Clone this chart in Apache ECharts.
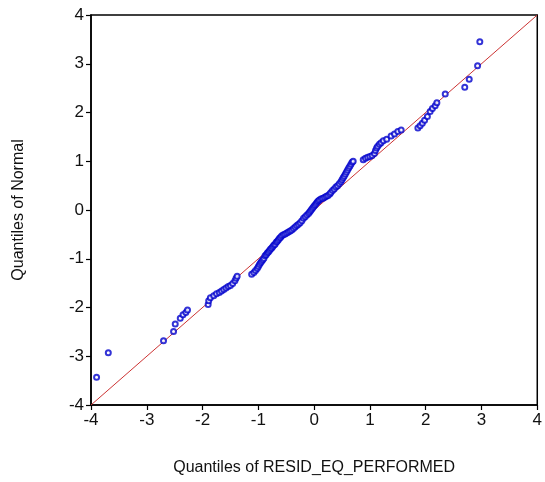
<!DOCTYPE html>
<html>
<head>
<meta charset="utf-8">
<script src="https://cdn.jsdelivr.net/npm/echarts@6/dist/echarts.min.js"></script>
<style>
  html, body { margin: 0; padding: 0; background: #fff; }
  #qq_chart { width: 545px; height: 482px; }
</style>
</head>
<body>
<div id="qq_chart"></div>
<script>
// Axis ticks
var axisTicks = [-4, -3, -2, -1, 0, 1, 2, 3, 4];

// Quantile pairs: [residual quantile, normal quantile]
var lowerTail = [
    [-3.90, -3.43], [-3.69, -2.93], [-2.70, -2.68], [-2.52, -2.49], [-2.49, -2.34],
    [-2.40, -2.22], [-2.35, -2.15], [-2.30, -2.10], [-2.27, -2.05]
];
var lowerBody = [
    [-1.90, -1.94], [-1.89, -1.86], [-1.86, -1.80], [-1.80, -1.76], [-1.75, -1.72],
    [-1.70, -1.69], [-1.66, -1.66], [-1.62, -1.63], [-1.58, -1.60], [-1.54, -1.57],
    [-1.50, -1.55], [-1.46, -1.51], [-1.42, -1.45], [-1.40, -1.40], [-1.38, -1.36],
    [-1.12, -1.32], [-1.08, -1.28], [-1.05, -1.24], [-1.02, -1.20], [-1.00, -1.16],
    [-0.98, -1.12], [-0.96, -1.08], [-0.94, -1.05], [-0.92, -1.02], [-0.90, -0.99],
    [-0.88, -0.94], [-0.86, -0.92], [-0.84, -0.88], [-0.82, -0.86], [-0.80, -0.83],
    [-0.78, -0.80], [-0.76, -0.78], [-0.74, -0.75], [-0.72, -0.72], [-0.70, -0.70],
    [-0.68, -0.66], [-0.66, -0.64], [-0.64, -0.61], [-0.62, -0.58], [-0.60, -0.56],
    [-0.58, -0.53], [-0.55, -0.51], [-0.52, -0.49], [-0.49, -0.47], [-0.46, -0.45],
    [-0.43, -0.43], [-0.40, -0.41], [-0.37, -0.38], [-0.34, -0.35], [-0.31, -0.32],
    [-0.28, -0.29], [-0.25, -0.26], [-0.22, -0.22], [-0.19, -0.17], [-0.16, -0.14],
    [-0.13, -0.10], [-0.10, -0.07], [-0.08, -0.04], [-0.06, -0.01], [-0.04, 0.02],
    [-0.02, 0.05]
];
var upperBody = [
    [0.00, 0.08], [0.02, 0.11], [0.04, 0.14], [0.06, 0.17], [0.08, 0.19],
    [0.10, 0.21], [0.13, 0.23], [0.16, 0.24], [0.19, 0.26], [0.22, 0.28],
    [0.25, 0.30], [0.28, 0.33], [0.30, 0.36], [0.33, 0.40], [0.36, 0.43],
    [0.39, 0.47], [0.42, 0.50], [0.45, 0.54], [0.48, 0.58], [0.50, 0.62],
    [0.52, 0.66], [0.54, 0.70], [0.56, 0.74], [0.58, 0.78], [0.60, 0.82],
    [0.62, 0.86], [0.64, 0.90], [0.66, 0.94], [0.68, 0.98], [0.70, 1.00],
    [0.88, 1.03], [0.92, 1.06], [0.96, 1.08], [1.00, 1.10], [1.04, 1.12],
    [1.08, 1.16], [1.10, 1.22], [1.12, 1.27], [1.14, 1.31], [1.17, 1.35],
    [1.20, 1.38], [1.24, 1.42], [1.30, 1.45], [1.38, 1.52], [1.44, 1.56],
    [1.50, 1.61], [1.56, 1.64]
];
var upperTail = [
    [1.86, 1.68], [1.90, 1.73], [1.94, 1.78], [1.98, 1.84], [2.03, 1.92],
    [2.08, 2.02], [2.12, 2.08], [2.17, 2.14], [2.20, 2.20], [2.35, 2.38],
    [2.70, 2.52], [2.78, 2.68], [2.93, 2.96], [2.97, 3.45]
];
// Reference line y = x
var refLine = [[-4, -4], [4, 4]];

var qqPoints = lowerTail.concat(lowerBody, upperBody, upperTail);

var chart = echarts.init(document.getElementById('qq_chart'));

var axisCommon = {
    type: 'value',
    min: -4,
    max: 4,
    interval: 1,
    nameLocation: 'middle',
    nameTextStyle: { color: '#111', fontSize: 16, fontFamily: 'Liberation Sans, Arial, sans-serif' },
    axisLine: { show: true, onZero: false, lineStyle: { color: '#000', width: 1.5 } },
    axisTick: { show: true, inside: false, length: 5, lineStyle: { color: '#000', width: 1.2 } },
    axisLabel: { color: '#111', fontSize: 17, margin: 7, fontFamily: 'Liberation Sans, Arial, sans-serif' },
    splitLine: { show: false }
};

chart.setOption({
    animation: false,
    backgroundColor: '#fff',
    grid: {
        left: 91,
        right: 4,
        top: 15,
        bottom: 77,
        show: true,
        borderColor: '#000',
        borderWidth: 1.5
    },
    xAxis: Object.assign({}, axisCommon, {
        name: 'Quantiles of RESID_EQ_PERFORMED',
        nameGap: 55
    }),
    yAxis: Object.assign({}, axisCommon, {
        name: 'Quantiles of Normal',
        nameGap: 64
    }),
    series: [{
        type: 'line',
        data: refLine,
        symbol: 'none',
        lineStyle: { color: '#cc3333', width: 1 },
        z: 1
    }, {
        type: 'scatter',
        data: qqPoints,
        symbol: 'emptyCircle',
        symbolSize: 5,
        itemStyle: { color: '#0000cc', borderWidth: 1.2 },
        z: 2
    }]
});
</script>
</body>
</html>
